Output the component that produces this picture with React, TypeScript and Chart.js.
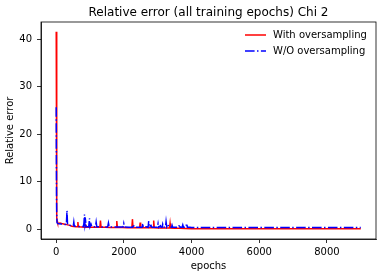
import React, { useEffect, useRef } from "react";
import { Chart, registerables } from "chart.js";

Chart.register(...registerables);

const TITLE = "Relative error (all training epochs) Chi 2";
const X_LABEL = "epochs";
const Y_LABEL = "Relative error";
const SERIES_NAMES = ["With oversampling", "W/O oversampling"];
const X_TICKS = [0, 2000, 4000, 6000, 8000];
const Y_TICKS = [0, 10, 20, 30, 40];
const X_RANGE = [-450, 9450];
const Y_RANGE = [-2.08, 43.68];

// "With oversampling" (red, solid)
const withEpochs = [
  0, 6, 12, 18, 22, 28, 40, 70, 110, 160, 220, 280, 340, 400, 460, 520, 580, 625, 640, 655,
  760, 855, 870, 885, 960, 1050, 1150, 1290, 1307, 1325, 1450, 1600, 1772, 1790, 1808,
  1950, 2100, 2235, 2252, 2270, 2380, 2465, 2480, 2495, 2600, 2700, 2862, 2880, 2898,
  3000, 3100, 3200, 3350, 3365, 3380, 3500, 3650, 3800, 4000, 4500, 5000, 5600, 6200,
  6800, 7400, 8000, 8600, 9000,
];
const withValues = [
  41.6, 18, 4, 6.7, 2.5, 1.6, 1.3, 1.2, 1.3, 1.2, 1.1, 1.0, 0.9, 0.8, 0.6, 0.55, 0.5, 0.5, 1.5, 0.5,
  0.45, 0.4, 1.0, 0.4, 0.4, 0.4, 0.4, 0.4, 1.8, 0.4, 0.4, 0.35, 0.35, 1.7, 0.35,
  0.35, 0.3, 0.3, 2.1, 0.3, 0.3, 0.3, 1.4, 0.3, 0.3, 0.3, 0.3, 1.8, 0.3,
  0.25, 0.25, 0.25, 0.25, 1.2, 0.25, 0.2, 0.2, 0.15, 0.1, 0.08, 0.08, 0.07, 0.07,
  0.07, 0.06, 0.06, 0.06, 0.06,
];

// "W/O oversampling" (blue, dash-dot)
const woEpochs = [
  0, 5, 10, 16, 24, 40, 80, 150, 230, 300, 318, 335, 400, 480, 505, 520, 535, 600, 700, 800,
  818, 835, 850, 870, 890, 960, 983, 1000, 1030, 1050, 1160, 1180, 1200, 1350, 1520, 1543,
  1565, 1700, 1975, 1995, 2015, 2150, 2260, 2280, 2300, 2400, 2540, 2557, 2575, 2650, 2715,
  2733, 2750, 2800, 2830, 2990, 3010, 3030, 3080, 3100, 3130, 3146, 3165, 3230, 3246, 3265,
  3300, 3330, 3410, 3424, 3440, 3550, 3620, 3640, 3660, 3720, 3740, 3760, 3835, 3855, 3875,
  3950, 4000, 5000, 6000, 7000, 8000, 9000,
];
const woValues = [
  25.7, 14, 6, 2.5, 1.4, 1.2, 1.15, 1.1, 1.0, 1.0, 3.9, 0.9, 0.8, 0.7, 0.7, 1.5, 0.65, 0.6, 0.55, 0.55,
  1.2, 3.1, 0.8, 1.6, 0.5, 0.5, 2.3, 0.5, 1.0, 0.5, 0.5, 1.5, 0.5, 0.45, 0.45, 1.3,
  0.45, 0.45, 0.45, 1.2, 0.45, 0.4, 0.4, 1.0, 0.4, 0.4, 0.4, 1.2, 0.4, 0.5, 0.4,
  1.7, 0.4, 0.8, 0.4, 0.4, 1.2, 0.4, 0.7, 0.4, 0.4, 1.0, 0.4, 0.5, 1.6, 0.5,
  1.0, 0.4, 0.4, 0.8, 0.4, 0.4, 0.4, 1.0, 0.4, 0.4, 0.9, 0.4, 0.4, 1.2, 0.4,
  0.38, 0.35, 0.35, 0.35, 0.35, 0.35, 0.35,
];

const RED = "#ff0000";
const BLUE = "#0000ff";
const DASH_DOT = [9.6, 2.4, 1.5, 2.4];
const FONT = "DejaVu Sans";

const decorPlugin = {
  id: "decor",
  afterDraw(chart: any) {
    const { ctx, chartArea: a } = chart;
    ctx.save();
    // frame (all four spines)
    ctx.strokeStyle = "#000";
    ctx.lineWidth = 0.8;
    ctx.setLineDash([]);
    ctx.strokeRect(a.left, a.top, a.right - a.left, a.bottom - a.top);
    // title
    ctx.fillStyle = "#000";
    ctx.font = `12px "${FONT}"`;
    ctx.textAlign = "center";
    ctx.textBaseline = "middle";
    ctx.fillText(TITLE, (a.left + a.right) / 2, a.top - 9);
    // legend
    const styles = [
      { color: RED, dash: [] as number[] },
      { color: BLUE, dash: DASH_DOT },
    ];
    ctx.font = `10px "${FONT}"`;
    ctx.textAlign = "left";
    SERIES_NAMES.forEach((name, i) => {
      const y = a.top + 13 + i * 16;
      ctx.beginPath();
      ctx.strokeStyle = styles[i].color;
      ctx.lineWidth = 1.5;
      ctx.setLineDash(styles[i].dash);
      ctx.moveTo(a.right - 131, y);
      ctx.lineTo(a.right - 110, y);
      ctx.stroke();
      ctx.setLineDash([]);
      ctx.fillStyle = "#000";
      ctx.fillText(name, a.right - 103, y);
    });
    ctx.restore();
  },
};

export default function App() {
  const ref = useRef<HTMLCanvasElement | null>(null);
  useEffect(() => {
    if (!ref.current) return;
    Chart.defaults.font.family = FONT;
    Chart.defaults.font.size = 10;
    Chart.defaults.color = "#000";
    const chart = new Chart(ref.current, {
      type: "line",
      data: {
        datasets: [
          {
            label: SERIES_NAMES[0],
            data: withEpochs.map((x, i) => ({ x, y: withValues[i] })),
            borderColor: RED,
            backgroundColor: RED,
            borderWidth: 1.5,
            pointRadius: 0,
            tension: 0,
            order: 2,
          },
          {
            label: SERIES_NAMES[1],
            data: woEpochs.map((x, i) => ({ x, y: woValues[i] })),
            borderColor: BLUE,
            backgroundColor: BLUE,
            borderWidth: 1.5,
            borderDash: DASH_DOT,
            pointRadius: 0,
            tension: 0,
            order: 1,
          },
        ],
      },
      options: {
        animation: false,
        responsive: true,
        maintainAspectRatio: false,
        devicePixelRatio: 1,
        layout: { padding: { top: 22, right: 6, left: 0, bottom: 0 } },
        plugins: { legend: { display: false }, tooltip: { enabled: false } },
        scales: {
          x: {
            type: "linear",
            min: X_RANGE[0],
            max: X_RANGE[1],
            afterBuildTicks: (s: any) => {
              s.ticks = X_TICKS.map((v) => ({ value: v }));
            },
            afterFit: (s: any) => {
              s.height = 39;
            },
            ticks: {
              autoSkip: false,
              maxRotation: 0,
              padding: 3,
              color: "#000",
              callback: (v: any) => String(v),
            },
            grid: {
              display: true,
              drawOnChartArea: false,
              drawTicks: true,
              tickLength: 4,
              color: "#000",
              lineWidth: 0.8,
            },
            border: { display: true, color: "#000", width: 0.8 },
            title: {
              display: true,
              text: X_LABEL,
              color: "#000",
              font: { size: 10, family: FONT },
              padding: { top: 0, bottom: 6 },
            },
          },
          y: {
            type: "linear",
            min: Y_RANGE[0],
            max: Y_RANGE[1],
            afterBuildTicks: (s: any) => {
              s.ticks = Y_TICKS.map((v) => ({ value: v }));
            },
            afterFit: (s: any) => {
              s.width = 41;
            },
            ticks: {
              autoSkip: false,
              padding: 5,
              color: "#000",
              callback: (v: any) => String(v),
            },
            grid: {
              display: true,
              drawOnChartArea: false,
              drawTicks: true,
              tickLength: 4,
              color: "#000",
              lineWidth: 0.8,
            },
            border: { display: true, color: "#000", width: 0.8 },
            title: {
              display: true,
              text: Y_LABEL,
              color: "#000",
              font: { size: 10, family: FONT },
              padding: { top: 4.5, bottom: 0 },
            },
          },
        },
      },
      plugins: [decorPlugin],
    });
    return () => chart.destroy();
  }, []);
  return (
    <div style={{ position: "absolute", left: 0, top: 0, width: 382, height: 278 }}>
      <canvas ref={ref} />
    </div>
  );
}
